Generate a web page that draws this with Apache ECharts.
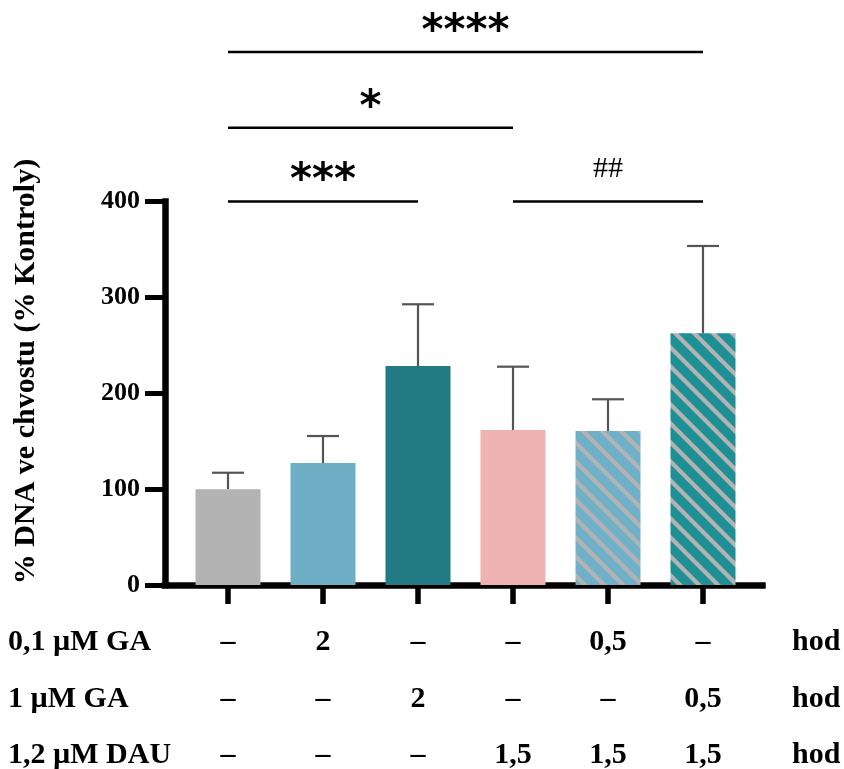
<!DOCTYPE html>
<html><head><meta charset="utf-8">
<script src="https://cdn.jsdelivr.net/npm/echarts@6/dist/echarts.min.js"></script>
<style>html,body{margin:0;padding:0;background:#fff}#c{width:844px;height:769px}</style>
</head><body><div id="c"></div>
<script>
// ---- data ----
const categories = ['K', '0,1 GA 2h', '1 GA 2h', 'DAU', '0,1 GA + DAU', '1 GA + DAU'];
const means  = [100, 127.2, 228.4, 161.7, 160.6, 262.5];
const errors = [17.1, 28.2, 64.4, 66.0, 33.1, 91.1];
const yMin = 0, yMax = 400, yStep = 100;
const yTitle = '% DNA ve chvostu (% Kontroly)';
const rowLabels = ['0,1 µM GA', '1 µM GA', '1,2 µM DAU'];
const row1 = ['–', '2', '–', '–', '0,5', '–'];
const row2 = ['–', '–', '2', '–', '–', '0,5'];
const row3 = ['–', '–', '–', '1,5', '1,5', '1,5'];
const unitLabel = 'hod';
const bracketFrom  = [0, 3, 0, 0];
const bracketTo    = [2, 5, 3, 5];
const bracketLevel = [400, 400, 477, 556];
const bracketText  = ['***', '##', '*', '****'];

// ---- styles ----
const SERIF = '"Liberation Serif","Times New Roman",serif';
const axisY0 = 585, firstRowY = 642.5, rowGap = 56.5;

function stripes(bg, fg) {
  const s = 19, c = document.createElement('canvas');
  c.width = s; c.height = s;
  const g = c.getContext('2d');
  g.fillStyle = bg; g.fillRect(0, 0, s, s);
  g.strokeStyle = fg; g.lineWidth = 4.2;
  for (const k of [-s, 0, s]) { g.beginPath(); g.moveTo(k - 2, -2); g.lineTo(k + s + 2, s + 2); g.stroke(); }
  return { image: c, repeat: 'repeat' };
}
const barFills = ['#b3b3b3', '#6eafc6', '#227a84', '#efb3b3',
  stripes('#6fb0c8', '#b3b3b3'), stripes('#1f8f96', '#b3b3b3')];

const chart = echarts.init(document.getElementById('c'), null, { renderer: 'canvas' });

const graphic = [
  { type: 'text', x: 26, y: 371.5, rotation: Math.PI / 2,
    style: { text: yTitle, font: 'bold 30px ' + SERIF, fill: '#000',
             align: 'center', verticalAlign: 'middle', textAlign: 'center', textVerticalAlign: 'middle' } }
];
rowLabels.forEach((t, k) => {
  graphic.push({ type: 'text', x: 8, y: firstRowY + k * rowGap,
    style: { text: t, font: 'bold 30px ' + SERIF, fill: '#000',
             align: 'left', verticalAlign: 'middle', textAlign: 'left', textVerticalAlign: 'middle' } });
  graphic.push({ type: 'text', x: 792, y: firstRowY + k * rowGap,
    style: { text: unitLabel, font: 'bold 30px ' + SERIF, fill: '#000',
             align: 'left', verticalAlign: 'middle', textAlign: 'left', textVerticalAlign: 'middle' } });
});

chart.setOption({
  animation: false,
  backgroundColor: '#fff',
  grid: [
    { left: 180.5, right: 93.5, top: 201.5, bottom: 184, containLabel: false, outerBoundsMode: 'none' },
    { left: 165, right: 81.5, top: 201.5, bottom: 184, containLabel: false, outerBoundsMode: 'none' }
  ],
  xAxis: [
    { type: 'category', gridIndex: 0, data: categories,
      axisLine: { show: false },
      axisTick: { show: true, alignWithLabel: true, interval: 0, length: 19, lineStyle: { color: '#000', width: 5.5 } },
      axisLabel: { interval: 0, margin: firstRowY - rowGap / 2 - axisY0,
        fontFamily: SERIF, fontWeight: 'bold', fontSize: 30, color: '#000', lineHeight: rowGap,
        formatter: (v, i) => [row1[i], row2[i], row3[i]].join('\n') },
      splitLine: { show: false } },
    { type: 'value', gridIndex: 1, min: 0, max: 1,
      axisLine: { show: true, onZero: false, lineStyle: { color: '#000', width: 6.5, cap: 'square' } },
      axisTick: { show: false }, axisLabel: { show: false }, splitLine: { show: false } }
  ],
  yAxis: [
    { type: 'value', gridIndex: 0, min: yMin, max: yMax, interval: yStep, offset: 15.5,
      axisLine: { show: true, lineStyle: { color: '#000', width: 6.5, cap: 'square' } },
      axisTick: { show: true, length: 20, lineStyle: { color: '#000', width: 5 } },
      axisLabel: { margin: 25, fontFamily: SERIF, fontWeight: 'bold', fontSize: 26, color: '#000' },
      splitLine: { show: false } },
    { type: 'value', gridIndex: 1, min: 0, max: 1, show: false }
  ],
  graphic: graphic,
  series: [
    { type: 'bar', xAxisIndex: 0, yAxisIndex: 0, barWidth: 65, z: 2,
      data: means.map((v, i) => ({ value: v, itemStyle: { color: barFills[i] } })) },
    { type: 'custom', xAxisIndex: 0, yAxisIndex: 0, clip: false, z: 3,
      encode: { x: 0, y: [1, 2] },
      data: means.map((m, i) => [i, m, m + errors[i]]),
      renderItem: (params, api) => {
        const i = api.value(0);
        const p0 = api.coord([i, api.value(1)]);
        const p1 = api.coord([i, api.value(2)]);
        const hw = 16, st = { stroke: '#555', lineWidth: 2.2 };
        return { type: 'group', children: [
          { type: 'line', shape: { x1: p0[0], y1: p0[1], x2: p1[0], y2: p1[1] }, style: st },
          { type: 'line', shape: { x1: p1[0] - hw, y1: p1[1], x2: p1[0] + hw, y2: p1[1] }, style: st }
        ] };
      } },
    { type: 'custom', xAxisIndex: 0, yAxisIndex: 0, clip: false, z: 4,
      encode: { x: [0, 1], y: 2 },
      data: bracketFrom.map((f, k) => [f, bracketTo[k], bracketLevel[k], k]),
      renderItem: (params, api) => {
        const k = api.value(3);
        const p0 = api.coord([api.value(0), api.value(2)]);
        const p1 = api.coord([api.value(1), api.value(2)]);
        const txt = bracketText[k];
        const isHash = txt.indexOf('#') >= 0;
        const font = isHash ? 'normal 30px ' + SERIF : 'bold 42px "DejaVu Sans",sans-serif';
        const off = isHash ? 32 : 19;
        return { type: 'group', children: [
          { type: 'line', shape: { x1: p0[0], y1: p0[1], x2: p1[0], y2: p1[1] }, style: { stroke: '#000', lineWidth: 2.5 } },
          { type: 'text', style: { text: txt, x: (p0[0] + p1[0]) / 2, y: p0[1] - off, font: font, fill: '#000',
              align: 'center', verticalAlign: 'middle', textAlign: 'center', textVerticalAlign: 'middle' } }
        ] };
      } }
  ]
});
</script>
</body></html>
